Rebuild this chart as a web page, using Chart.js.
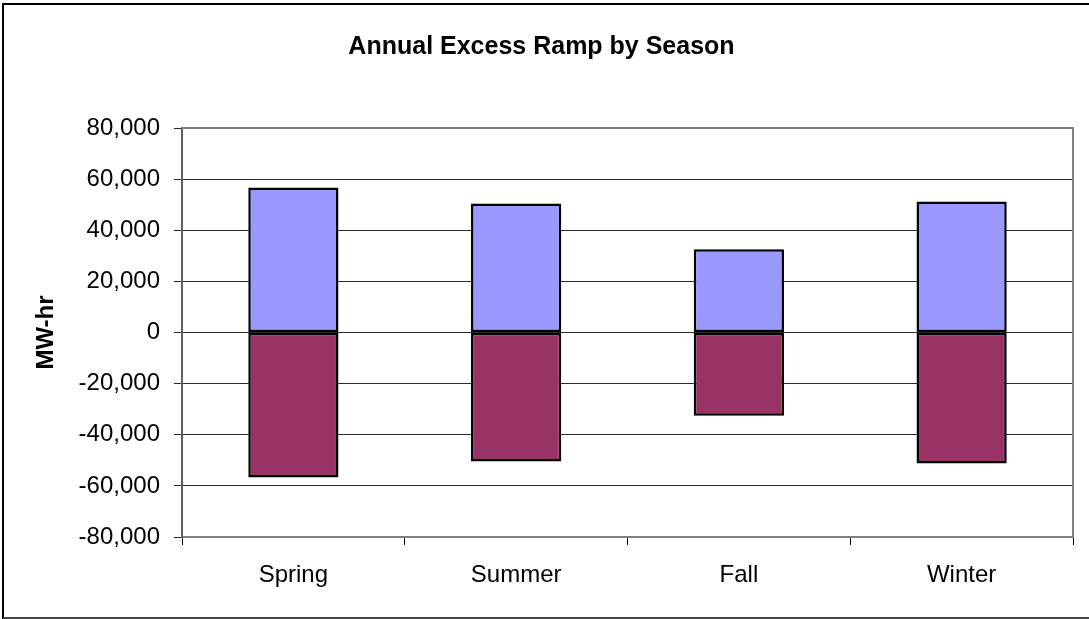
<!DOCTYPE html>
<html>
<head>
<meta charset="utf-8">
<script src="https://cdn.jsdelivr.net/npm/chart.js@4"></script>
<style>
  html, body { margin: 0; padding: 0; background: #fff; }
  #wrap { position: relative; width: 1089px; height: 619px; }
</style>
</head>
<body>
<div id="wrap"><canvas id="chart"></canvas></div>
<script>
// Dados
const seasons = ['Spring', 'Summer', 'Fall', 'Winter'];
const rampUp = [56700, 50500, 32600, 51200];
const rampDown = [-56700, -50500, -32600, -51200];
const yTicks = [-80000, -60000, -40000, -20000, 0, 20000, 40000, 60000, 80000];

const fontFamily = "'Liberation Sans', Arial, sans-serif";

// moldura externa + borda cinza da área do gráfico
const framePlugin = {
    id: 'frame',
    afterDraw(chart) {
        const ctx = chart.ctx;
        const a = chart.chartArea;
        ctx.save();
        ctx.strokeStyle = '#808080';
        ctx.lineWidth = 2;
        ctx.beginPath();
        ctx.moveTo(a.left, a.top);
        ctx.lineTo(a.right, a.top);
        ctx.lineTo(a.right, a.bottom);
        ctx.stroke();
        ctx.strokeStyle = '#000';
        ctx.lineWidth = 2;
        ctx.beginPath();
        ctx.moveTo(3, 619);
        ctx.lineTo(3, 4);
        ctx.lineTo(1089, 4);
        ctx.stroke();
        ctx.strokeStyle = '#444';
        ctx.beginPath();
        ctx.moveTo(3, 618);
        ctx.lineTo(1089, 618);
        ctx.stroke();
        ctx.restore();
    }
};

const ctx = document.getElementById('chart').getContext('2d');
new Chart(ctx, {
    type: 'bar',
    data: {
        labels: seasons,
        datasets: [
            {
                label: 'Up',
                data: rampUp,
                backgroundColor: '#9999FF',
                borderColor: '#000',
                borderWidth: 2.5,
                borderSkipped: false
            },
            {
                label: 'Down',
                data: rampDown,
                backgroundColor: '#993366',
                borderColor: '#000',
                borderWidth: 2.5,
                borderSkipped: false
            }
        ]
    },
    options: {
        responsive: true,
        maintainAspectRatio: false,
        animation: false,
        layout: { padding: { left: 10, right: 16, top: 0, bottom: 4 } },
        datasets: { bar: { categoryPercentage: 1, barPercentage: 0.405 } },
        plugins: {
            legend: { display: false },
            tooltip: { enabled: false },
            title: {
                display: true,
                text: 'Annual Excess Ramp by Season',
                color: '#000',
                font: { family: fontFamily, size: 25, weight: 'bold' },
                padding: { top: 32, bottom: 66 }
            }
        },
        scales: {
            x: {
                stacked: true,
                grid: { drawOnChartArea: false, drawTicks: true, tickLength: 8, color: '#000' },
                border: { color: '#808080', width: 2 },
                ticks: {
                    color: '#000',
                    padding: 16,
                    font: { family: fontFamily, size: 24 }
                },
                afterFit(scale) { scale.height = 78; }
            },
            y: {
                stacked: true,
                min: yTicks[0],
                max: yTicks[yTicks.length - 1],
                afterBuildTicks(scale) {
                    scale.ticks = yTicks.map(v => ({ value: v }));
                },
                grid: { color: '#2a2a2a', lineWidth: 1, tickLength: 8 },
                border: { color: '#606060', width: 2 },
                ticks: {
                    color: '#000',
                    padding: 14,
                    font: { family: fontFamily, size: 24 },
                    callback: v => v.toLocaleString('en-US')
                },
                title: {
                    display: true,
                    text: 'MW-hr',
                    color: '#000',
                    font: { family: fontFamily, size: 24, weight: 'bold' },
                    padding: { top: 22, bottom: 0 }
                },
                afterFit(scale) { scale.width = 172; }
            }
        }
    },
    plugins: [framePlugin]
});
</script>
</body>
</html>
